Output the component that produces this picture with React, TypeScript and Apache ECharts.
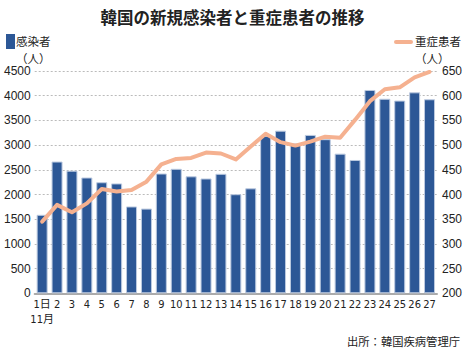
import React, { useEffect, useRef } from "react";
import * as echarts from "echarts";

const days = ["1日\n11月", "2", "3", "4", "5", "6", "7", "8", "9", "10", "11", "12", "13", "14", "15", "16", "17", "18", "19", "20", "21", "22", "23", "24", "25", "26", "27"];
const cases = [1589, 2667, 2482, 2344, 2248, 2224, 1758, 1715, 2425, 2520, 2368, 2324, 2419, 2006, 2125, 3187, 3292, 3034, 3206, 3120, 2827, 2699, 4116, 3938, 3901, 4068, 3928];
const severe = [345, 379, 364, 382, 411, 406, 409, 426, 461, 472, 474, 485, 483, 471, 497, 523, 506, 499, 507, 517, 515, 551, 589, 613, 617, 637, 648];

const title = "韓国の新規感染者と重症患者の推移";
const source = "出所：韓国疾病管理庁";
const cjk = "'Noto Sans CJK JP', sans-serif";
const narrow = "'DejaVu Sans Condensed', 'Noto Sans CJK JP', sans-serif";
const yFont = "'Liberation Sans', Arial, sans-serif";
const legendFont = "11.5px 'Noto Sans CJK JP'";

export default function App() {
  const ref = useRef<HTMLDivElement>(null);
  useEffect(() => {
    if (!ref.current) return;
    const chart = echarts.init(ref.current, null, { renderer: "svg" });
    chart.setOption({
      animation: false,
      backgroundColor: "#ffffff",
      grid: { left: 34.7, right: 26.3, top: 71, bottom: 56.7, containLabel: false },
      title: {
        text: title,
        left: "center",
        top: 4,
        textStyle: { fontFamily: cjk, fontSize: 16.5, fontWeight: "bold", color: "#222" },
      },
      graphic: [
        { type: "rect", shape: { x: 6, y: 34, width: 9, height: 15 }, style: { fill: "#2c5796" } },
        { type: "text", x: 16, y: 40.8, style: { text: "感染者", font: legendFont, fill: "#222", verticalAlign: "middle" } },
        { type: "text", x: 16, y: 57.6, style: { text: "（人）", font: legendFont, fill: "#222", verticalAlign: "middle" } },
        { type: "line", shape: { x1: 396, y1: 42, x2: 411, y2: 42 }, style: { stroke: "#f5b190", lineWidth: 4, lineCap: "round" } },
        { type: "text", x: 415, y: 40.8, style: { text: "重症患者", font: legendFont, fill: "#222", verticalAlign: "middle" } },
        { type: "text", x: 415, y: 57.6, style: { text: "（人）", font: legendFont, fill: "#222", verticalAlign: "middle" } },
        { type: "text", right: 5, top: 335, style: { text: source, font: "11.3px 'Noto Sans CJK JP'", fill: "#222" } },
      ],
      xAxis: {
        type: "category",
        data: days,
        axisLine: { lineStyle: { color: "#aaaaaa", width: 2 } },
        axisTick: { show: false },
        axisLabel: { interval: 0, fontFamily: narrow, fontSize: 11, color: "#222", margin: 4, lineHeight: 15 },
      },
      yAxis: [
        {
          type: "value",
          min: 0,
          max: 4500,
          interval: 500,
          axisLine: { show: false },
          axisTick: { show: false },
          splitLine: { lineStyle: { color: "#bbbbbb", type: [2, 2], width: 1 } },
          axisLabel: { fontFamily: yFont, fontSize: 12, color: "#222", margin: 4, formatter: (v: number) => String(v) },
        },
        {
          type: "value",
          min: 200,
          max: 650,
          interval: 50,
          axisLine: { show: false },
          axisTick: { show: false },
          splitLine: { show: false },
          axisLabel: { fontFamily: yFont, fontSize: 12, color: "#222", margin: 5, formatter: (v: number) => String(v) },
        },
      ],
      series: [
        {
          type: "bar",
          data: cases,
          barWidth: 11,
          itemStyle: { color: "#2c5796", borderColor: "#bccae0", borderWidth: 1 },
        },
        {
          type: "line",
          yAxisIndex: 1,
          data: severe,
          symbol: "none",
          lineStyle: { color: "#f5b190", width: 4, cap: "round", join: "round" },
          z: 3,
        },
      ],
    });
    return () => chart.dispose();
  }, []);
  return <div ref={ref} style={{ width: 465, height: 350, position: "absolute", left: 0, top: 0 }} />;
}
